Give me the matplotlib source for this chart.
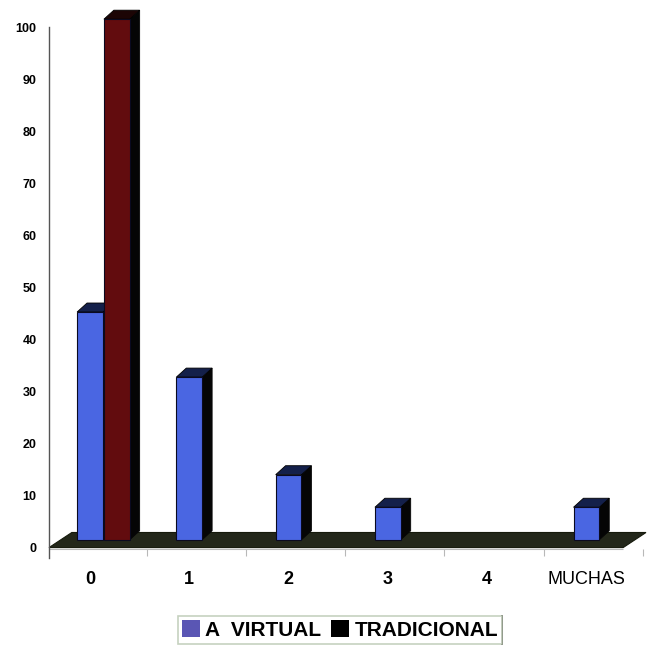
import matplotlib
matplotlib.use("Agg")
import matplotlib.pyplot as plt
from matplotlib.patches import Polygon, Patch
from matplotlib.lines import Line2D
import numpy as np

# ---------------- data ----------------
categories = ["0", "1", "2", "3", "4", "MUCHAS"]
virtual = [43.75, 31.25, 12.5, 6.25, 0, 6.25]
tradicional = [100, 0, 0, 0, 0, 0]
series_names = ["A  VIRTUAL", "TRADICIONAL"]
y_ticks = [0, 10, 20, 30, 40, 50, 60, 70, 80, 90, 100]

# ---------------- style ----------------
plt.rcParams['font.family'] = ['Liberation Sans', 'DejaVu Sans']

blue_front = '#4a66e2'
blue_top = '#14204a'
red_front = '#620c0e'
red_top = '#1c0505'
side_col = '#050505'
floor_col = '#23271a'

fig = plt.figure(figsize=(6.51, 6.52), dpi=100)
ax = fig.add_axes([49 / 651, (652 - 558) / 652, 596 / 651, 531 / 652])
ax.set_xlim(-0.483, 5.52)
ax.set_ylim(-2, 100)

x = np.arange(len(categories))
width = 0.26
base = 1.5          # bars stand slightly behind the floor front edge
ddx, ddy = 0.10, 1.73   # depth offset of 3D faces (data units)

# floor
fdx, fdy = 0.23, 2.9
floor = Polygon([(-0.483, 0), (5.30, 0), (5.30 + fdx, fdy), (-0.483 + fdx, fdy)],
                closed=True, facecolor=floor_col, edgecolor='#161a0c', lw=0.8,
                clip_on=False, zorder=1)
ax.add_patch(floor)

# boundary ticks under the floor
ax.hlines(-0.25, -0.483, 5.30, color='#b8b8b8', lw=0.8, zorder=0.5, clip_on=False)
ax.vlines(x + 0.5, -1.7, -0.25, color='#b8b8b8', lw=0.8, zorder=0.5, clip_on=False)


def bar3d(xc, vals, front, top, z):
    lws = [0.8 if v > 0 else 0 for v in vals]
    bars = ax.bar(xc, vals, width=width, bottom=base, color=front,
                  edgecolor='#0a0a20', linewidth=lws, zorder=z, clip_on=False)
    for b, v in zip(bars, vals):
        if v <= 0:
            continue
        xl = b.get_x()
        xr = xl + b.get_width()
        yb = base
        yt = base + v
        side = Polygon([(xr, yb), (xr + ddx, yb + ddy), (xr + ddx, yt + ddy), (xr, yt)],
                       closed=True, facecolor=side_col, edgecolor=side_col, lw=0.6,
                       zorder=z - 0.1, clip_on=False)
        topf = Polygon([(xl, yt), (xl + ddx, yt + ddy), (xr + ddx, yt + ddy), (xr, yt)],
                       closed=True, facecolor=top, edgecolor='#000000', lw=0.6,
                       zorder=z - 0.1, clip_on=False)
        ax.add_patch(side)
        ax.add_patch(topf)


bar3d(x - 0.07, virtual, blue_front, blue_top, 3)
bar3d(x + 0.20, tradicional, red_front, red_top, 5)

# axes styling
for s in ['top', 'right', 'bottom']:
    ax.spines[s].set_visible(False)
ax.spines['left'].set_color('#555555')
ax.spines['left'].set_linewidth(1.0)

ax.set_yticks(y_ticks)
ax.set_yticklabels([str(t) for t in y_ticks], fontsize=9, fontweight='bold')
ax.tick_params(axis='y', length=0, pad=9)

ax.set_xticks(x - 0.07)
ax.set_xticklabels(categories, fontsize=13)
for lab in ax.get_xticklabels():
    if lab.get_text() != 'MUCHAS':
        lab.set_fontweight('bold')
ax.tick_params(axis='x', length=0, pad=9)

# legend
handles = [Patch(facecolor='#5a56b4', edgecolor='none'),
           Patch(facecolor='black', edgecolor='none')]
leg = fig.legend(handles, series_names, loc='center',
                 bbox_to_anchor=(340 / 651, 1 - 630 / 652), ncol=2,
                 frameon=True, fancybox=False, edgecolor='#b8c6b0',
                 prop={'weight': 'bold', 'size': 15},
                 handlelength=0.85, handleheight=0.85, handletextpad=0.25,
                 columnspacing=0.5, borderpad=0.2, borderaxespad=0)
leg.get_frame().set_linewidth(1.2)

fig.canvas.draw()
bb = leg.get_window_extent().transformed(fig.transFigure.inverted())
fig.add_artist(Line2D([bb.x1, bb.x1], [bb.y0, bb.y1], transform=fig.transFigure,
                      color='#222222', lw=1.2))

fig.savefig('out.png', dpi=100, facecolor='white')
